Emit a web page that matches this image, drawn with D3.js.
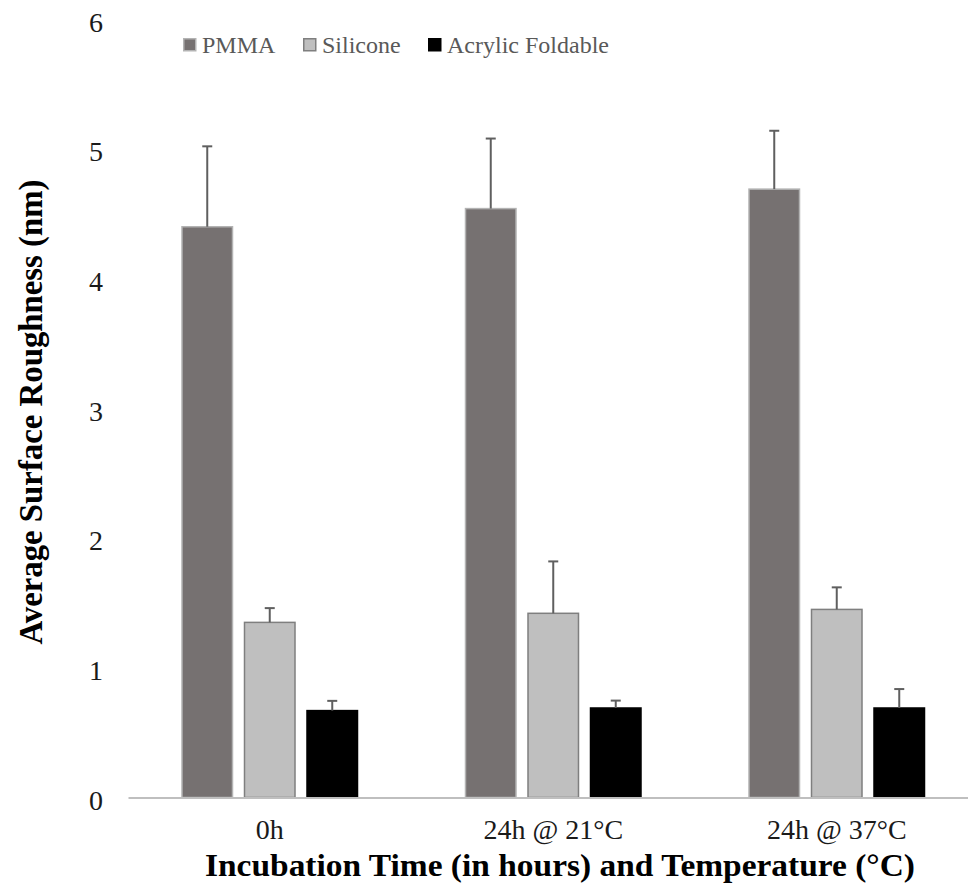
<!DOCTYPE html>
<html>
<head>
<meta charset="utf-8">
<script src="https://cdn.jsdelivr.net/npm/d3@7"></script>
<style>
  body { margin: 0; background: #fff; }
  svg text { font-family: "Liberation Serif", "Times New Roman", Times, serif; }
</style>
</head>
<body>
<script>
var width = 968;
var height = 891;

var categories = ['0h', '24h @ 21°C', '24h @ 37°C'];
var series = ['PMMA', 'Silicone', 'Acrylic Foldable'];
var pmma = [4.40, 4.54, 4.69];
var pmma_err = [0.62, 0.54, 0.45];
var silicone = [1.35, 1.42, 1.45];
var silicone_err = [0.11, 0.40, 0.17];
var acrylic = [0.67, 0.69, 0.69];
var acrylic_err = [0.075, 0.057, 0.146];
var y_ticks = [0, 1, 2, 3, 4, 5, 6];

var fills = {'PMMA': '#767171', 'Silicone': '#bfbfbf', 'Acrylic Foldable': '#000000'};
var strokes = {'PMMA': '#b3b3b3', 'Silicone': '#7f7f7f', 'Acrylic Foldable': '#000000'};

var values = {'PMMA': pmma, 'Silicone': silicone, 'Acrylic Foldable': acrylic};
var errors = {'PMMA': pmma_err, 'Silicone': silicone_err, 'Acrylic Foldable': acrylic_err};

var rows = [];
categories.forEach(function (c, i) {
    series.forEach(function (s) {
        rows.push({cat: c, series: s, value: values[s][i], err: errors[s][i]});
    });
});

var plot_left = 128, plot_right = 978.5;
var y_base = 797.5, y_top = 19.2;
var serif = '"Liberation Serif", "Times New Roman", Times, serif';

var svg = d3.select('body').append('svg')
    .attr('width', width)
    .attr('height', height)
    .attr('font-family', serif);

var x0 = d3.scaleBand().domain(categories).range([plot_left, plot_right]);
var x1 = d3.scaleBand().domain(series).range([0, 175.5]).paddingInner(0.192);
var y = d3.scaleLinear().domain([0, 6]).range([y_base, y_top]);

function bar_x(d) {
    return x0(d.cat) + x0.bandwidth() / 2 - 87.75 + x1(d.series);
}

// y tick labels (no axis line, no ticks)
var y_axis = d3.axisLeft(y).tickValues(y_ticks).tickFormat(d3.format('d')).tickSize(0).tickPadding(0);
var gy = svg.append('g')
    .attr('class', 'y axis')
    .attr('transform', 'translate(103,0)')
    .call(y_axis)
    .attr('font-family', serif);
gy.select('.domain').remove();
gy.selectAll('text')
    .attr('dy', '0.35em')
    .attr('y', 2)
    .attr('fill', '#1a1a1a')
    .style('font-size', '28px');

// bars
svg.append('g').selectAll('rect')
    .data(rows)
    .enter()
    .append('rect')
    .attr('x', bar_x)
    .attr('y', function (d) { return y(d.value); })
    .attr('width', x1.bandwidth())
    .attr('height', function (d) { return y(0) - y(d.value); })
    .attr('fill', function (d) { return fills[d.series]; })
    .attr('stroke', function (d) { return strokes[d.series]; })
    .attr('stroke-width', 1.5);

// error bars (upper only)
var eg = svg.append('g').attr('stroke', '#5f5f5f').attr('stroke-width', 2);
eg.selectAll('line.stem')
    .data(rows)
    .enter()
    .append('line')
    .attr('class', 'stem')
    .attr('x1', function (d) { return bar_x(d) + x1.bandwidth() / 2; })
    .attr('x2', function (d) { return bar_x(d) + x1.bandwidth() / 2; })
    .attr('y1', function (d) { return y(d.value); })
    .attr('y2', function (d) { return y(d.value + d.err); });
eg.selectAll('line.cap')
    .data(rows)
    .enter()
    .append('line')
    .attr('class', 'cap')
    .attr('x1', function (d) { return bar_x(d) + x1.bandwidth() / 2 - 5; })
    .attr('x2', function (d) { return bar_x(d) + x1.bandwidth() / 2 + 5; })
    .attr('y1', function (d) { return y(d.value + d.err); })
    .attr('y2', function (d) { return y(d.value + d.err); });

// x axis
var x_axis = d3.axisBottom(x0).tickSize(0).tickPadding(0);
var gx = svg.append('g')
    .attr('class', 'x axis')
    .attr('transform', 'translate(0,' + y_base + ')')
    .call(x_axis)
    .attr('font-family', serif);
gx.select('.domain')
    .attr('stroke', '#bfbfbf')
    .attr('stroke-width', 2);
gx.selectAll('text')
    .attr('y', 41.5)
    .attr('dy', 0)
    .attr('fill', '#1a1a1a')
    .style('font-size', '28px');

// axis titles
svg.append('text')
    .attr('x', 560)
    .attr('y', 876)
    .attr('text-anchor', 'middle')
    .attr('font-weight', 'bold')
    .attr('textLength', 710)
    .attr('lengthAdjust', 'spacingAndGlyphs')
    .style('font-size', '32px')
    .attr('fill', '#000')
    .text('Incubation Time (in hours) and Temperature (°C)');

svg.append('text')
    .attr('transform', 'translate(42,412) rotate(-90)')
    .attr('text-anchor', 'middle')
    .attr('font-weight', 'bold')
    .attr('textLength', 465)
    .attr('lengthAdjust', 'spacingAndGlyphs')
    .style('font-size', '34px')
    .attr('fill', '#000')
    .text('Average Surface Roughness (nm)');

// legend
var legend_x = [183, 303, 428];
var lg = svg.append('g').selectAll('g')
    .data(series)
    .enter()
    .append('g')
    .attr('transform', function (d, i) { return 'translate(' + legend_x[i] + ',38)'; });
lg.append('rect')
    .attr('x', 0.75).attr('y', 0.75)
    .attr('width', 12).attr('height', 12)
    .attr('fill', function (d) { return fills[d]; })
    .attr('stroke', function (d) { return strokes[d]; })
    .attr('stroke-width', 1.5);
lg.append('text')
    .attr('x', 19)
    .attr('y', 15)
    .attr('fill', '#595959')
    .style('font-size', '24px')
    .text(function (d) { return d; });
</script>
</body>
</html>
